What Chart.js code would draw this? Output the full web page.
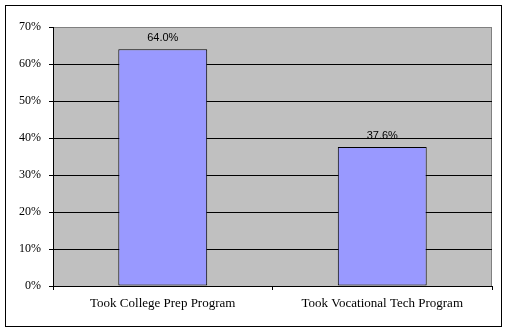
<!DOCTYPE html>
<html>
<head>
<meta charset="utf-8">
<script src="https://cdn.jsdelivr.net/npm/chart.js@4/dist/chart.umd.min.js"></script>
<style>
  html, body { margin: 0; padding: 0; background: #fff; }
  #wrap { width: 508px; height: 331px; }
</style>
</head>
<body>
<div id="wrap"><canvas id="programChart" width="508" height="331"></canvas></div>
<script>
const categories = ["Took College Prep Program", "Took Vocational Tech Program"];
const percentages = [64.0, 37.6];
const yTickValues = [0, 10, 20, 30, 40, 50, 60, 70];

// Excel-style frame: outer border, grey plot area with grey top/right edge
const framePlugin = {
  id: "frame",
  beforeDraw(chart) {
    const ctx = chart.ctx;
    const a = chart.chartArea;
    ctx.save();
    ctx.fillStyle = "#fff";
    ctx.fillRect(0, 0, chart.width, chart.height);
    ctx.strokeStyle = "#000";
    ctx.lineWidth = 1;
    ctx.strokeRect(5.5, 5.5, 496, 321);
    ctx.fillStyle = "#C0C0C0";
    ctx.fillRect(a.left, a.top, a.right - a.left, a.bottom - a.top);
    ctx.strokeStyle = "#808080";
    ctx.beginPath();
    ctx.moveTo(a.left, a.top + 0.5);
    ctx.lineTo(a.right - 0.5, a.top + 0.5);
    ctx.lineTo(a.right - 0.5, a.bottom);
    ctx.stroke();
    ctx.restore();
  }
};

// value labels above the bars
const valueLabels = {
  id: "valueLabels",
  afterDatasetsDraw(chart) {
    const ctx = chart.ctx;
    const meta = chart.getDatasetMeta(0);
    ctx.save();
    ctx.font = "11px 'Liberation Sans', Arial, sans-serif";
    ctx.fillStyle = "#000";
    ctx.textAlign = "center";
    ctx.textBaseline = "alphabetic";
    meta.data.forEach((bar, i) => {
      ctx.fillText(percentages[i].toFixed(1) + "%", bar.x, bar.y - 8);
    });
    ctx.restore();
  }
};

const ctx = document.getElementById("programChart").getContext("2d");
new Chart(ctx, {
  type: "bar",
  data: {
    labels: categories,
    datasets: [{
      data: percentages,
      backgroundColor: "#9999FF",
      borderColor: "#000",
      borderWidth: 1,
      borderSkipped: false,
      categoryPercentage: 1,
      barPercentage: 0.405
    }]
  },
  options: {
    responsive: false,
    animation: false,
    layout: { padding: { left: 0, top: 27, right: 16, bottom: 0 } },
    plugins: {
      legend: { display: false },
      tooltip: { enabled: false }
    },
    scales: {
      x: {
        afterFit(scale) { scale.height = 45; },
        border: { color: "#000", width: 1 },
        grid: { drawOnChartArea: false, color: "#000", tickLength: 4, offset: true },
        ticks: {
          color: "#000",
          padding: 6,
          maxRotation: 0,
          font: { family: "'Liberation Serif', 'Times New Roman', serif", size: 13 }
        }
      },
      y: {
        min: 0,
        max: 70,
        afterFit(scale) { scale.width = 53; },
        afterBuildTicks(scale) { scale.ticks = yTickValues.map(v => ({ value: v })); },
        border: { color: "#000", width: 1 },
        grid: {
          color: c => (c.tick && c.tick.value === 70 ? "#808080" : "#000"),
          tickColor: "#000",
          tickLength: 4
        },
        ticks: {
          color: "#000",
          padding: 8,
          callback: v => v + "%",
          font: { family: "'Liberation Serif', 'Times New Roman', serif", size: 12 }
        }
      }
    }
  },
  plugins: [framePlugin, valueLabels]
});
</script>
</body>
</html>
